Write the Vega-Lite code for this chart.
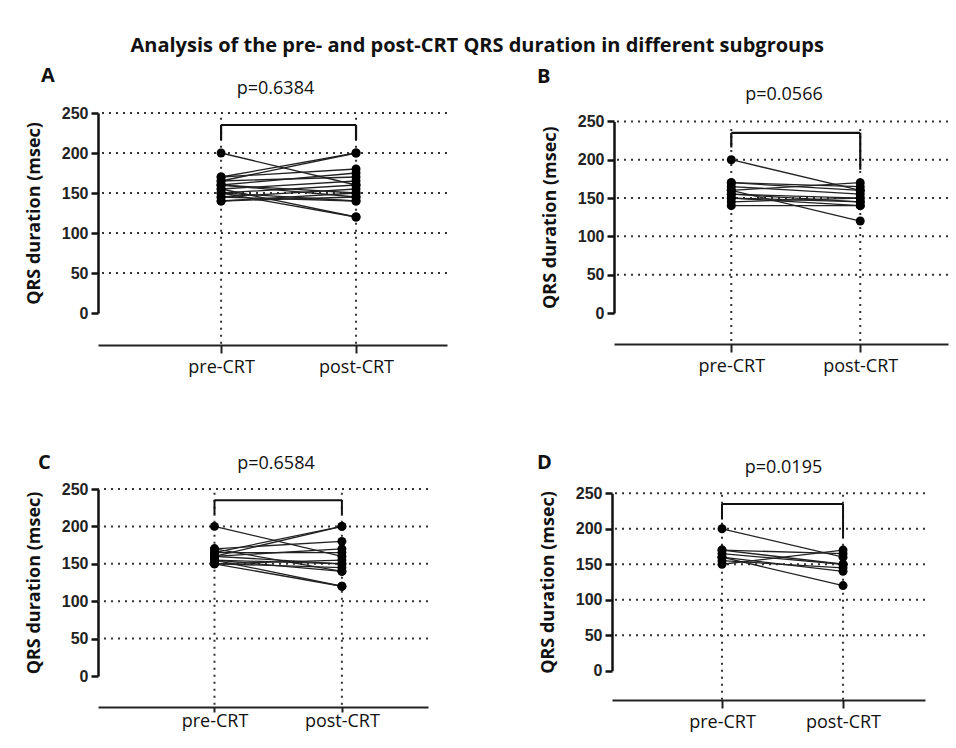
{
  "$schema": "https://vega.github.io/schema/vega-lite/v6.json",
  "padding": {"left": 25, "top": 35, "right": 5, "bottom": 5},
  "background": "white",
  "title": {"text": "Analysis of the pre- and post-CRT QRS duration in different subgroups", "font": "Open Sans", "fontSize": 20, "fontWeight": "bold", "color": "#111", "anchor": "middle", "offset": 10, "dx": -10},
  "datasets": {
    "A": [
      {"id": 1, "phase": "pre-CRT", "qrs": 200}, {"id": 1, "phase": "post-CRT", "qrs": 160},
      {"id": 2, "phase": "pre-CRT", "qrs": 170}, {"id": 2, "phase": "post-CRT", "qrs": 200},
      {"id": 3, "phase": "pre-CRT", "qrs": 165}, {"id": 3, "phase": "post-CRT", "qrs": 200},
      {"id": 4, "phase": "pre-CRT", "qrs": 155}, {"id": 4, "phase": "post-CRT", "qrs": 120},
      {"id": 5, "phase": "pre-CRT", "qrs": 150}, {"id": 5, "phase": "post-CRT", "qrs": 120},
      {"id": 6, "phase": "pre-CRT", "qrs": 170}, {"id": 6, "phase": "post-CRT", "qrs": 180},
      {"id": 7, "phase": "pre-CRT", "qrs": 160}, {"id": 7, "phase": "post-CRT", "qrs": 175},
      {"id": 8, "phase": "pre-CRT", "qrs": 165}, {"id": 8, "phase": "post-CRT", "qrs": 170},
      {"id": 9, "phase": "pre-CRT", "qrs": 155}, {"id": 9, "phase": "post-CRT", "qrs": 165},
      {"id": 10, "phase": "pre-CRT", "qrs": 150}, {"id": 10, "phase": "post-CRT", "qrs": 160},
      {"id": 11, "phase": "pre-CRT", "qrs": 145}, {"id": 11, "phase": "post-CRT", "qrs": 155},
      {"id": 12, "phase": "pre-CRT", "qrs": 140}, {"id": 12, "phase": "post-CRT", "qrs": 150},
      {"id": 13, "phase": "pre-CRT", "qrs": 160}, {"id": 13, "phase": "post-CRT", "qrs": 145},
      {"id": 14, "phase": "pre-CRT", "qrs": 150}, {"id": 14, "phase": "post-CRT", "qrs": 140},
      {"id": 15, "phase": "pre-CRT", "qrs": 145}, {"id": 15, "phase": "post-CRT", "qrs": 140},
      {"id": 16, "phase": "pre-CRT", "qrs": 140}, {"id": 16, "phase": "post-CRT", "qrs": 145},
      {"id": 17, "phase": "pre-CRT", "qrs": 160}, {"id": 17, "phase": "post-CRT", "qrs": 150}
    ],
    "B": [
      {"id": 1, "phase": "pre-CRT", "qrs": 200}, {"id": 1, "phase": "post-CRT", "qrs": 160},
      {"id": 2, "phase": "pre-CRT", "qrs": 160}, {"id": 2, "phase": "post-CRT", "qrs": 120},
      {"id": 3, "phase": "pre-CRT", "qrs": 170}, {"id": 3, "phase": "post-CRT", "qrs": 165},
      {"id": 4, "phase": "pre-CRT", "qrs": 165}, {"id": 4, "phase": "post-CRT", "qrs": 155},
      {"id": 5, "phase": "pre-CRT", "qrs": 160}, {"id": 5, "phase": "post-CRT", "qrs": 170},
      {"id": 6, "phase": "pre-CRT", "qrs": 155}, {"id": 6, "phase": "post-CRT", "qrs": 150},
      {"id": 7, "phase": "pre-CRT", "qrs": 150}, {"id": 7, "phase": "post-CRT", "qrs": 145},
      {"id": 8, "phase": "pre-CRT", "qrs": 145}, {"id": 8, "phase": "post-CRT", "qrs": 150},
      {"id": 9, "phase": "pre-CRT", "qrs": 140}, {"id": 9, "phase": "post-CRT", "qrs": 140},
      {"id": 10, "phase": "pre-CRT", "qrs": 150}, {"id": 10, "phase": "post-CRT", "qrs": 140},
      {"id": 11, "phase": "pre-CRT", "qrs": 170}, {"id": 11, "phase": "post-CRT", "qrs": 160},
      {"id": 12, "phase": "pre-CRT", "qrs": 155}, {"id": 12, "phase": "post-CRT", "qrs": 145}
    ],
    "C": [
      {"id": 1, "phase": "pre-CRT", "qrs": 200}, {"id": 1, "phase": "post-CRT", "qrs": 160},
      {"id": 2, "phase": "pre-CRT", "qrs": 165}, {"id": 2, "phase": "post-CRT", "qrs": 200},
      {"id": 3, "phase": "pre-CRT", "qrs": 160}, {"id": 3, "phase": "post-CRT", "qrs": 200},
      {"id": 4, "phase": "pre-CRT", "qrs": 155}, {"id": 4, "phase": "post-CRT", "qrs": 120},
      {"id": 5, "phase": "pre-CRT", "qrs": 150}, {"id": 5, "phase": "post-CRT", "qrs": 120},
      {"id": 6, "phase": "pre-CRT", "qrs": 170}, {"id": 6, "phase": "post-CRT", "qrs": 180},
      {"id": 7, "phase": "pre-CRT", "qrs": 160}, {"id": 7, "phase": "post-CRT", "qrs": 170},
      {"id": 8, "phase": "pre-CRT", "qrs": 165}, {"id": 8, "phase": "post-CRT", "qrs": 165},
      {"id": 9, "phase": "pre-CRT", "qrs": 155}, {"id": 9, "phase": "post-CRT", "qrs": 150},
      {"id": 10, "phase": "pre-CRT", "qrs": 150}, {"id": 10, "phase": "post-CRT", "qrs": 145},
      {"id": 11, "phase": "pre-CRT", "qrs": 170}, {"id": 11, "phase": "post-CRT", "qrs": 140},
      {"id": 12, "phase": "pre-CRT", "qrs": 150}, {"id": 12, "phase": "post-CRT", "qrs": 155},
      {"id": 13, "phase": "pre-CRT", "qrs": 160}, {"id": 13, "phase": "post-CRT", "qrs": 150},
      {"id": 14, "phase": "pre-CRT", "qrs": 155}, {"id": 14, "phase": "post-CRT", "qrs": 140}
    ],
    "D": [
      {"id": 1, "phase": "pre-CRT", "qrs": 200}, {"id": 1, "phase": "post-CRT", "qrs": 160},
      {"id": 2, "phase": "pre-CRT", "qrs": 160}, {"id": 2, "phase": "post-CRT", "qrs": 120},
      {"id": 3, "phase": "pre-CRT", "qrs": 170}, {"id": 3, "phase": "post-CRT", "qrs": 165},
      {"id": 4, "phase": "pre-CRT", "qrs": 165}, {"id": 4, "phase": "post-CRT", "qrs": 150},
      {"id": 5, "phase": "pre-CRT", "qrs": 160}, {"id": 5, "phase": "post-CRT", "qrs": 140},
      {"id": 6, "phase": "pre-CRT", "qrs": 150}, {"id": 6, "phase": "post-CRT", "qrs": 170},
      {"id": 7, "phase": "pre-CRT", "qrs": 155}, {"id": 7, "phase": "post-CRT", "qrs": 145},
      {"id": 8, "phase": "pre-CRT", "qrs": 170}, {"id": 8, "phase": "post-CRT", "qrs": 150}
    ]
  },
  "spacing": 77,
  "vconcat": [
    {
      "spacing": 89,
      "hconcat": [
        {
          "title": {"text": "A", "anchor": "start", "frame": "group", "dx": -57, "offset": -22, "baseline": "alphabetic"},
          "width": 349, "height": 200,
          "layer": [
            {"data": {"values": [{"g": 50}, {"g": 100}, {"g": 150}, {"g": 200}, {"g": 250}]},
             "mark": {"type": "rule", "strokeDash": [2, 5], "strokeWidth": 2, "color": "#333"},
             "encoding": {"y": {"field": "g", "type": "quantitative", "scale": {"domain": [0, 250], "nice": false, "zero": false}, "axis": {"title": "QRS duration (msec)", "values": [0, 50, 100, 150, 200, 250]}}}},
            {"data": {"values": [{"phase": "pre-CRT", "top": 244, "bot": -40}, {"phase": "post-CRT", "top": 244, "bot": -40}]},
             "mark": {"type": "rule", "strokeDash": [2, 5], "strokeWidth": 2, "color": "#333"},
             "encoding": {"x": {"field": "phase", "type": "ordinal", "scale": {"type": "point", "domain": ["pre-CRT", "post-CRT"], "padding": 0.793, "align": 0.575}, "axis": {"offset": 32}},
                          "y": {"field": "top", "type": "quantitative", "scale": {"domain": [0, 250], "nice": false, "zero": false}, "axis": {"title": "QRS duration (msec)", "values": [0, 50, 100, 150, 200, 250]}}, "y2": {"field": "bot"}}},
            {"data": {"name": "A"}, "mark": {"type": "line", "color": "#222", "strokeWidth": 1.3},
             "encoding": {"x": {"field": "phase", "type": "ordinal"}, "y": {"field": "qrs", "type": "quantitative", "scale": {"domain": [0, 250], "nice": false, "zero": false}, "axis": {"title": "QRS duration (msec)", "values": [0, 50, 100, 150, 200, 250]}}, "detail": {"field": "id"}}},
            {"data": {"name": "A"}, "mark": {"type": "circle", "size": 80, "color": "#000", "opacity": 1},
             "encoding": {"x": {"field": "phase", "type": "ordinal"}, "y": {"field": "qrs", "type": "quantitative", "scale": {"domain": [0, 250], "nice": false, "zero": false}, "axis": {"title": "QRS duration (msec)", "values": [0, 50, 100, 150, 200, 250]}}}},
            {"data": {"values": [{"a": "pre-CRT", "b": "post-CRT", "y": 235}]}, "mark": {"type": "rule", "strokeWidth": 2.2, "color": "#111"},
             "encoding": {"x": {"field": "a", "type": "ordinal"}, "x2": {"field": "b"}, "y": {"field": "y", "type": "quantitative", "scale": {"domain": [0, 250], "nice": false, "zero": false}, "axis": {"title": "QRS duration (msec)", "values": [0, 50, 100, 150, 200, 250]}}}},
            {"data": {"values": [{"a": "pre-CRT", "y": 235, "y2": 216}, {"a": "post-CRT", "y": 235, "y2": 216}]}, "mark": {"type": "rule", "strokeWidth": 2.2, "color": "#111"},
             "encoding": {"x": {"field": "a", "type": "ordinal"}, "y": {"field": "y", "type": "quantitative", "scale": {"domain": [0, 250], "nice": false, "zero": false}, "axis": {"title": "QRS duration (msec)", "values": [0, 50, 100, 150, 200, 250]}}, "y2": {"field": "y2"}}},
            {"data": {"values": [{"label": "p=0.6384", "y": 280}]}, "mark": {"type": "text", "fontSize": 18, "color": "#111", "dx": 3},
             "encoding": {"y": {"field": "y", "type": "quantitative", "scale": {"domain": [0, 250], "nice": false, "zero": false}, "axis": {"title": "QRS duration (msec)", "values": [0, 50, 100, 150, 200, 250]}}, "text": {"field": "label"}}}
          ]
        },
        {
          "title": {"text": "B", "anchor": "start", "frame": "group", "dx": -77, "offset": -17, "baseline": "alphabetic"},
          "width": 334, "height": 200,
          "layer": [
            {"data": {"values": [{"g": 50}, {"g": 100}, {"g": 150}, {"g": 200}, {"g": 250}]},
             "mark": {"type": "rule", "strokeDash": [2, 5], "strokeWidth": 2, "color": "#333"},
             "encoding": {"y": {"field": "g", "type": "quantitative", "scale": {"domain": [0, 250], "range": [200, 8.4], "nice": false, "zero": false}, "axis": {"title": "QRS duration (msec)", "values": [0, 50, 100, 150, 200, 250]}}}},
            {"data": {"values": [{"phase": "pre-CRT", "top": 240, "bot": -40}, {"phase": "post-CRT", "top": 240, "bot": -40}]},
             "mark": {"type": "rule", "strokeDash": [2, 5], "strokeWidth": 2, "color": "#333"},
             "encoding": {"x": {"field": "phase", "type": "ordinal", "scale": {"type": "point", "domain": ["pre-CRT", "post-CRT"], "padding": 0.795, "align": 0.572}, "axis": {"offset": 31}},
                          "y": {"field": "top", "type": "quantitative", "scale": {"domain": [0, 250], "range": [200, 8.4], "nice": false, "zero": false}, "axis": {"title": "QRS duration (msec)", "values": [0, 50, 100, 150, 200, 250]}}, "y2": {"field": "bot"}}},
            {"data": {"name": "B"}, "mark": {"type": "line", "color": "#222", "strokeWidth": 1.3},
             "encoding": {"x": {"field": "phase", "type": "ordinal"}, "y": {"field": "qrs", "type": "quantitative", "scale": {"domain": [0, 250], "range": [200, 8.4], "nice": false, "zero": false}, "axis": {"title": "QRS duration (msec)", "values": [0, 50, 100, 150, 200, 250]}}, "detail": {"field": "id"}}},
            {"data": {"name": "B"}, "mark": {"type": "circle", "size": 80, "color": "#000", "opacity": 1},
             "encoding": {"x": {"field": "phase", "type": "ordinal"}, "y": {"field": "qrs", "type": "quantitative", "scale": {"domain": [0, 250], "range": [200, 8.4], "nice": false, "zero": false}, "axis": {"title": "QRS duration (msec)", "values": [0, 50, 100, 150, 200, 250]}}}},
            {"data": {"values": [{"a": "pre-CRT", "b": "post-CRT", "y": 235}]}, "mark": {"type": "rule", "strokeWidth": 2.2, "color": "#111"},
             "encoding": {"x": {"field": "a", "type": "ordinal"}, "x2": {"field": "b"}, "y": {"field": "y", "type": "quantitative", "scale": {"domain": [0, 250], "range": [200, 8.4], "nice": false, "zero": false}, "axis": {"title": "QRS duration (msec)", "values": [0, 50, 100, 150, 200, 250]}}}},
            {"data": {"values": [{"a": "pre-CRT", "y": 235, "y2": 216}, {"a": "post-CRT", "y": 235, "y2": 187}]}, "mark": {"type": "rule", "strokeWidth": 2.2, "color": "#111"},
             "encoding": {"x": {"field": "a", "type": "ordinal"}, "y": {"field": "y", "type": "quantitative", "scale": {"domain": [0, 250], "range": [200, 8.4], "nice": false, "zero": false}, "axis": {"title": "QRS duration (msec)", "values": [0, 50, 100, 150, 200, 250]}}, "y2": {"field": "y2"}}},
            {"data": {"values": [{"label": "p=0.0566", "y": 285}]}, "mark": {"type": "text", "fontSize": 18, "color": "#111", "dx": 3},
             "encoding": {"y": {"field": "y", "type": "quantitative", "scale": {"domain": [0, 250], "range": [200, 8.4], "nice": false, "zero": false}, "axis": {"title": "QRS duration (msec)", "values": [0, 50, 100, 150, 200, 250]}}, "text": {"field": "label"}}}
          ]
        }
      ]
    },
    {
      "spacing": 108,
      "hconcat": [
        {
          "title": {"text": "C", "anchor": "start", "frame": "group", "dx": -60, "offset": -34, "baseline": "alphabetic"},
          "width": 330, "height": 187,
          "layer": [
            {"data": {"values": [{"g": 50}, {"g": 100}, {"g": 150}, {"g": 200}, {"g": 250}]},
             "mark": {"type": "rule", "strokeDash": [2, 5], "strokeWidth": 2, "color": "#333"},
             "encoding": {"y": {"field": "g", "type": "quantitative", "scale": {"domain": [0, 250], "nice": false, "zero": false}, "axis": {"title": "QRS duration (msec)", "values": [0, 50, 100, 150, 200, 250]}}}},
            {"data": {"values": [{"phase": "pre-CRT", "top": 245, "bot": -41}, {"phase": "post-CRT", "top": 245, "bot": -41}]},
             "mark": {"type": "rule", "strokeDash": [2, 5], "strokeWidth": 2, "color": "#333"},
             "encoding": {"x": {"field": "phase", "type": "ordinal", "scale": {"type": "point", "domain": ["pre-CRT", "post-CRT"], "padding": 0.795, "align": 0.575}, "axis": {"offset": 31, "tickSize": 5, "labelPadding": 0}},
                          "y": {"field": "top", "type": "quantitative", "scale": {"domain": [0, 250], "nice": false, "zero": false}, "axis": {"title": "QRS duration (msec)", "values": [0, 50, 100, 150, 200, 250]}}, "y2": {"field": "bot"}}},
            {"data": {"name": "C"}, "mark": {"type": "line", "color": "#222", "strokeWidth": 1.3},
             "encoding": {"x": {"field": "phase", "type": "ordinal"}, "y": {"field": "qrs", "type": "quantitative", "scale": {"domain": [0, 250], "nice": false, "zero": false}, "axis": {"title": "QRS duration (msec)", "values": [0, 50, 100, 150, 200, 250]}}, "detail": {"field": "id"}}},
            {"data": {"name": "C"}, "mark": {"type": "circle", "size": 80, "color": "#000", "opacity": 1},
             "encoding": {"x": {"field": "phase", "type": "ordinal"}, "y": {"field": "qrs", "type": "quantitative", "scale": {"domain": [0, 250], "nice": false, "zero": false}, "axis": {"title": "QRS duration (msec)", "values": [0, 50, 100, 150, 200, 250]}}}},
            {"data": {"values": [{"a": "pre-CRT", "b": "post-CRT", "y": 235}]}, "mark": {"type": "rule", "strokeWidth": 2, "color": "#111"},
             "encoding": {"x": {"field": "a", "type": "ordinal"}, "x2": {"field": "b"}, "y": {"field": "y", "type": "quantitative", "scale": {"domain": [0, 250], "nice": false, "zero": false}, "axis": {"title": "QRS duration (msec)", "values": [0, 50, 100, 150, 200, 250]}}}},
            {"data": {"values": [{"a": "pre-CRT", "y": 235, "y2": 216}, {"a": "post-CRT", "y": 235, "y2": 216}]}, "mark": {"type": "rule", "strokeWidth": 2, "color": "#111"},
             "encoding": {"x": {"field": "a", "type": "ordinal"}, "y": {"field": "y", "type": "quantitative", "scale": {"domain": [0, 250], "nice": false, "zero": false}, "axis": {"title": "QRS duration (msec)", "values": [0, 50, 100, 150, 200, 250]}}, "y2": {"field": "y2"}}},
            {"data": {"values": [{"label": "p=0.6584", "y": 283}]}, "mark": {"type": "text", "fontSize": 18, "color": "#111", "dx": 13},
             "encoding": {"y": {"field": "y", "type": "quantitative", "scale": {"domain": [0, 250], "nice": false, "zero": false}, "axis": {"title": "QRS duration (msec)", "values": [0, 50, 100, 150, 200, 250]}}, "text": {"field": "label"}}}
          ]
        },
        {
          "title": {"text": "D", "anchor": "start", "frame": "group", "dx": -75, "offset": -30, "baseline": "alphabetic"},
          "width": 313, "height": 187,
          "layer": [
            {"data": {"values": [{"g": 50}, {"g": 100}, {"g": 150}, {"g": 200}, {"g": 250}]},
             "mark": {"type": "rule", "strokeDash": [2, 5], "strokeWidth": 2, "color": "#333"},
             "encoding": {"y": {"field": "g", "type": "quantitative", "scale": {"domain": [0, 250], "range": [181.7, 4.3], "nice": false, "zero": false}, "axis": {"title": "QRS duration (msec)", "values": [0, 50, 100, 150, 200, 250]}}}},
            {"data": {"values": [{"phase": "pre-CRT", "top": 248, "bot": -41}, {"phase": "post-CRT", "top": 248, "bot": -41}]},
             "mark": {"type": "rule", "strokeDash": [2, 5], "strokeWidth": 2, "color": "#333"},
             "encoding": {"x": {"field": "phase", "type": "ordinal", "scale": {"type": "point", "domain": ["pre-CRT", "post-CRT"], "padding": 0.793, "align": 0.573}, "axis": {"offset": 24}},
                          "y": {"field": "top", "type": "quantitative", "scale": {"domain": [0, 250], "range": [181.7, 4.3], "nice": false, "zero": false}, "axis": {"title": "QRS duration (msec)", "values": [0, 50, 100, 150, 200, 250]}}, "y2": {"field": "bot"}}},
            {"data": {"name": "D"}, "mark": {"type": "line", "color": "#222", "strokeWidth": 1.3},
             "encoding": {"x": {"field": "phase", "type": "ordinal"}, "y": {"field": "qrs", "type": "quantitative", "scale": {"domain": [0, 250], "range": [181.7, 4.3], "nice": false, "zero": false}, "axis": {"title": "QRS duration (msec)", "values": [0, 50, 100, 150, 200, 250]}}, "detail": {"field": "id"}}},
            {"data": {"name": "D"}, "mark": {"type": "circle", "size": 80, "color": "#000", "opacity": 1},
             "encoding": {"x": {"field": "phase", "type": "ordinal"}, "y": {"field": "qrs", "type": "quantitative", "scale": {"domain": [0, 250], "range": [181.7, 4.3], "nice": false, "zero": false}, "axis": {"title": "QRS duration (msec)", "values": [0, 50, 100, 150, 200, 250]}}}},
            {"data": {"values": [{"a": "pre-CRT", "b": "post-CRT", "y": 235}]}, "mark": {"type": "rule", "strokeWidth": 2, "color": "#111"},
             "encoding": {"x": {"field": "a", "type": "ordinal"}, "x2": {"field": "b"}, "y": {"field": "y", "type": "quantitative", "scale": {"domain": [0, 250], "range": [181.7, 4.3], "nice": false, "zero": false}, "axis": {"title": "QRS duration (msec)", "values": [0, 50, 100, 150, 200, 250]}}}},
            {"data": {"values": [{"a": "pre-CRT", "y": 235, "y2": 213}, {"a": "post-CRT", "y": 235, "y2": 187}]}, "mark": {"type": "rule", "strokeWidth": 2, "color": "#111"},
             "encoding": {"x": {"field": "a", "type": "ordinal"}, "y": {"field": "y", "type": "quantitative", "scale": {"domain": [0, 250], "range": [181.7, 4.3], "nice": false, "zero": false}, "axis": {"title": "QRS duration (msec)", "values": [0, 50, 100, 150, 200, 250]}}, "y2": {"field": "y2"}}},
            {"data": {"values": [{"label": "p=0.0195", "y": 285}]}, "mark": {"type": "text", "fontSize": 18, "color": "#111", "dx": 15},
             "encoding": {"y": {"field": "y", "type": "quantitative", "scale": {"domain": [0, 250], "range": [181.7, 4.3], "nice": false, "zero": false}, "axis": {"title": "QRS duration (msec)", "values": [0, 50, 100, 150, 200, 250]}}, "text": {"field": "label"}}}
          ]
        }
      ]
    }
  ],
  "config": {
    "font": "Open Sans",
    "view": {"stroke": null},
    "title": {"font": "Open Sans", "fontSize": 20, "fontWeight": "bold", "color": "#111"},
    "axisY": {"grid": false, "labelOverlap": false, "labelFlush": false, "domainWidth": 2.5, "domainColor": "#111", "tickColor": "#111", "tickWidth": 2.5, "tickSize": 7, "labelFont": "Liberation Sans", "labelFontWeight": "bold", "labelFontSize": 16, "labelColor": "#222", "labelPadding": 3, "titleFont": "Open Sans", "titleFontSize": 18, "titleFontWeight": "bold", "titleColor": "#111", "titlePadding": 18},
    "axisX": {"grid": false, "title": null, "domainWidth": 2, "domainColor": "#222", "tickWidth": 2, "tickColor": "#222", "tickSize": 8, "labelFont": "Open Sans", "labelFontSize": 18, "labelColor": "#111", "labelPadding": 5, "labelAngle": 0}
  }
}
